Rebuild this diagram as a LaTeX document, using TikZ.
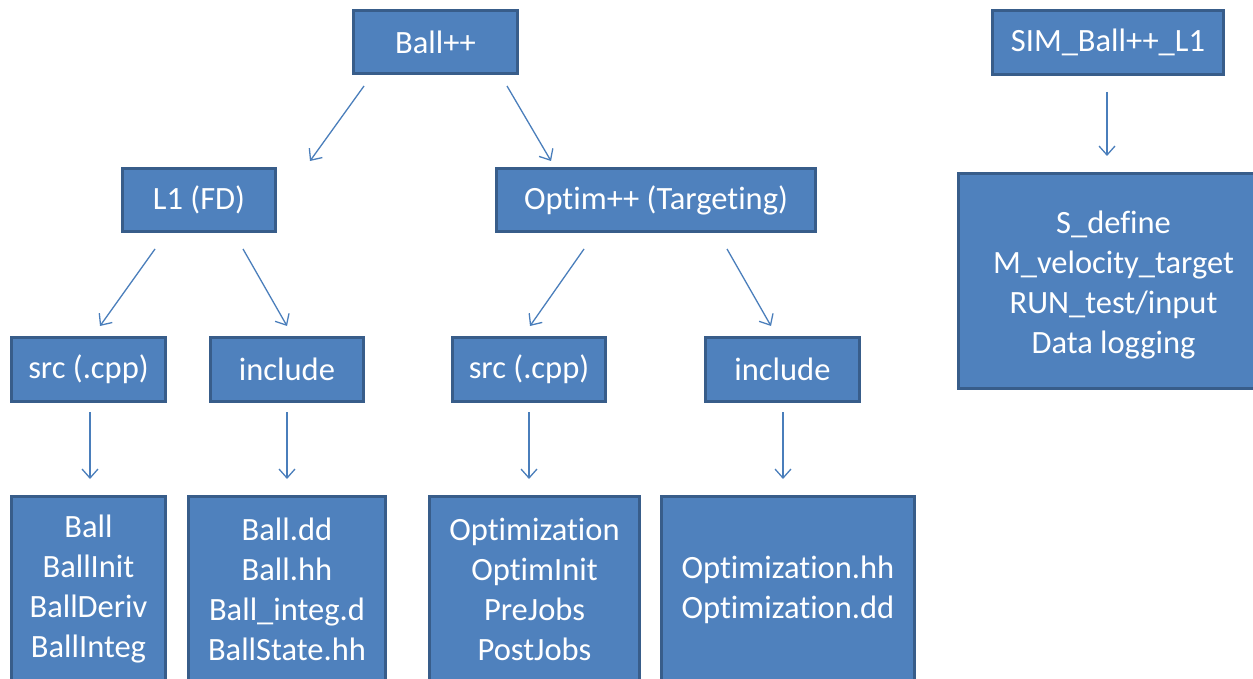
\documentclass[tikz,border=0pt]{standalone}
\usepackage{fontspec}
\setmainfont{Carlito}[Ligatures=CommonOff]
\usetikzlibrary{arrows.meta}
\definecolor{boxfill}{HTML}{4F81BD}
\definecolor{boxline}{HTML}{385D8A}
\definecolor{arrowc}{HTML}{4A7EBB}
\tikzset{
  box/.style={draw=boxline, fill=boxfill, line width=3pt, text=white,
    font=\fontsize{32.5}{40}\selectfont, align=center, inner sep=0pt},
  conn/.style={draw=arrowc, line width=1.3pt, -{Straight Barb[length=9pt,width=16pt,line width=1.3pt]}}
}
\begin{document}
\begin{tikzpicture}[x=1pt,y=-1pt]
\useasboundingbox (0,0) rectangle (1253,679);
\clip (0,0) rectangle (1253,679);
% top level
\node[box, minimum width=164pt, minimum height=63pt] (ball) at (435.5,42) {Ball++};
\node[box, minimum width=231pt, minimum height=64pt] (sim) at (1108,42.5) {SIM\_Ball++\_L1};
% second level
\node[box, minimum width=153pt, minimum height=63pt] (l1) at (199,200) {L1 (FD)};
\node[box, minimum width=319pt, minimum height=63pt] (optim) at (656,200) {Optim++ (Targeting)};
\node[box, minimum width=310pt, minimum height=215pt] (simlist) at (1113.5,281)
  {\rule{0pt}{30pt}S\_define\\M\_velocity\_target\\RUN\_test/input\\Data logging};
% third level
\node[box, minimum width=154pt, minimum height=64pt] (src1) at (88.5,369.5) {src (.cpp)};
\node[box, minimum width=153pt, minimum height=64pt] (inc1) at (287,369.5) {include};
\node[box, minimum width=153pt, minimum height=64pt] (src2) at (529,369.5) {src (.cpp)};
\node[box, minimum width=154pt, minimum height=64pt] (inc2) at (782.5,369.5) {include};
% bottom lists
\node[box, minimum width=154pt, minimum height=187pt] (srclist1) at (88.5,589.5)
  {Ball\\BallInit\\BallDeriv\\BallInteg};
\node[box, minimum width=197pt, minimum height=187pt] (inclist1) at (287,589.5)
  {Ball.dd\\Ball.hh\\Ball\_integ.d\\BallState.hh};
\node[box, minimum width=210pt, minimum height=187pt] (srclist2) at (534.5,589.5)
  {Optimization\\OptimInit\\PreJobs\\PostJobs};
\node[box, minimum width=253pt, minimum height=187pt] (inclist2) at (788,589.5)
  {Optimization.hh\\Optimization.dd};
% arrow end points
\coordinate (a1s) at (364,86);  \coordinate (a1e) at (310,161);
\coordinate (a2s) at (507,86);  \coordinate (a2e) at (551,161);
\coordinate (a3s) at (155,249); \coordinate (a3e) at (100,326);
\coordinate (a4s) at (243,249); \coordinate (a4e) at (287,326);
\coordinate (a5s) at (584,249); \coordinate (a5e) at (530,326);
\coordinate (a6s) at (727,249); \coordinate (a6e) at (771,326);
\coordinate (a7s) at (90,412);  \coordinate (a7e) at (90,479);
\coordinate (a8s) at (287,412); \coordinate (a8e) at (287,479);
\coordinate (a9s) at (529,412); \coordinate (a9e) at (529,479);
\coordinate (a10s) at (783,412); \coordinate (a10e) at (783,479);
\coordinate (a11s) at (1107,92); \coordinate (a11e) at (1107,156);
\foreach \i in {1,...,11} {\draw[conn] (a\i s) -- (a\i e);}
\end{tikzpicture}
\end{document}
